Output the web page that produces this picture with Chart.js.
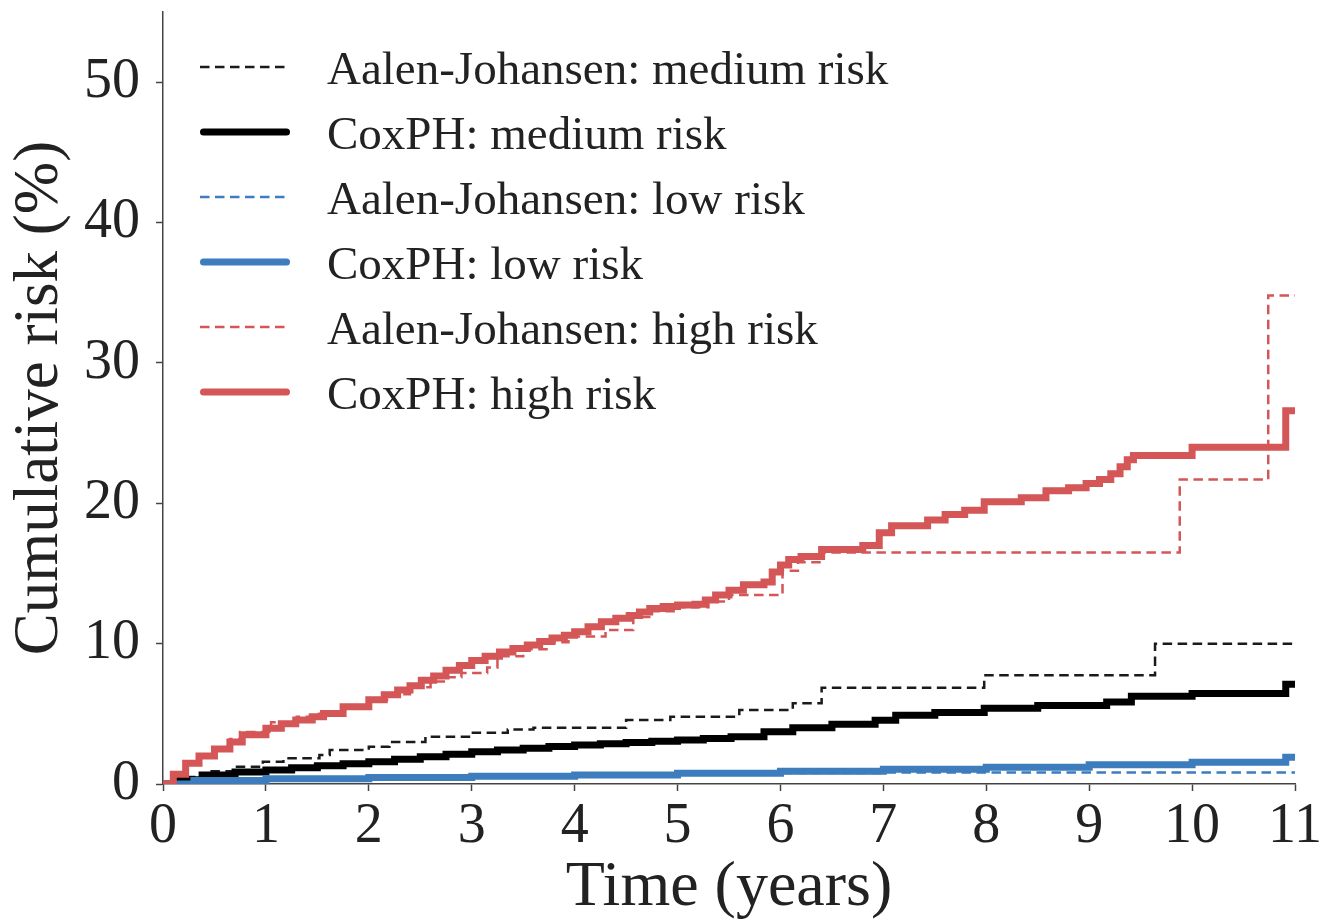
<!DOCTYPE html>
<html>
<head>
<meta charset="utf-8">
<script src="https://cdn.jsdelivr.net/npm/chart.js@4.4.1/dist/chart.umd.min.js"></script>
<style>
  html, body { margin: 0; padding: 0; background: #ffffff; }
  #wrap { width: 1338px; height: 920px; }
</style>
</head>
<body>
<div id="wrap"><canvas id="c" width="1338" height="920"></canvas></div>
<script>
// ---- data ----
const xTicks = [0, 1, 2, 3, 4, 5, 6, 7, 8, 9, 10, 11];
const yTicks = [0, 10, 20, 30, 40, 50];

const seriesLabels = [
  "Aalen-Johansen: medium risk",
  "CoxPH: medium risk",
  "Aalen-Johansen: low risk",
  "CoxPH: low risk",
  "Aalen-Johansen: high risk",
  "CoxPH: high risk"
];

const ajMediumT = [0, 0.2, 0.45, 0.69, 0.97, 1.17, 1.52, 1.62, 2.0, 2.2, 2.55, 2.99, 3.35, 3.6, 4.5, 4.93, 5.6, 6.12, 6.4, 7.98, 9.64, 11.0];
const ajMediumY = [0, 0.5, 0.9, 1.23, 1.59, 1.83, 2.07, 2.42, 2.66, 3.0, 3.37, 3.66, 3.89, 4.0, 4.56, 4.8, 5.27, 5.75, 6.85, 7.75, 10.0, 10.0];

const coxMediumT = [0, 0.15, 0.38, 0.7, 1.0, 1.25, 1.5, 1.75, 2.0, 2.25, 2.5, 2.75, 3.0, 3.25, 3.5, 3.75, 4.0, 4.25, 4.5, 4.75, 5.0, 5.25, 5.52, 5.84, 6.12, 6.5, 6.92, 7.12, 7.5, 7.98, 8.5, 9.17, 9.41, 10.0, 10.91, 11.0];
const coxMediumY = [0, 0.3, 0.64, 0.85, 1.0, 1.15, 1.3, 1.45, 1.59, 1.77, 1.95, 2.12, 2.3, 2.43, 2.55, 2.67, 2.78, 2.87, 2.95, 3.04, 3.13, 3.25, 3.37, 3.73, 4.0, 4.25, 4.55, 4.9, 5.1, 5.4, 5.6, 5.85, 6.25, 6.45, 7.1, 7.1];

const ajLowT = [0, 0.3, 1, 2, 3, 4, 5, 6, 7.0, 11.0];
const ajLowY = [0, 0.22, 0.33, 0.42, 0.5, 0.6, 0.7, 0.78, 0.82, 0.82];

const coxLowT = [0, 0.3, 1, 2, 3, 4, 5, 6, 7, 8, 9, 10, 10.91, 11.0];
const coxLowY = [0, 0.25, 0.38, 0.47, 0.55, 0.64, 0.76, 0.9, 1.05, 1.2, 1.38, 1.55, 1.9, 1.9];

const ajHighT = [0, 0.1, 0.22, 0.35, 0.5, 0.65, 0.75, 1.05, 1.3, 1.5, 1.75, 2.0, 2.2, 2.4, 2.6, 2.75, 2.9, 3.15, 3.25, 3.5, 3.75, 3.94, 4.3, 4.57, 4.75, 5.0, 5.3, 5.5, 6.02, 6.17, 6.4, 9.88, 10.74, 11.0];
const ajHighY = [0, 0.6, 1.4, 2.0, 2.6, 3.2, 3.7, 4.4, 4.8, 5.0, 5.5, 6.0, 6.4, 6.9, 7.3, 7.6, 7.9, 8.3, 9.1, 9.6, 10.1, 10.5, 10.97, 11.9, 12.3, 12.6, 13.0, 13.46, 15.2, 15.8, 16.5, 21.7, 34.8, 34.8];

const coxHighT = [0, 0.1, 0.22, 0.35, 0.5, 0.65, 0.77, 1.0, 1.15, 1.29, 1.45, 1.56, 1.75, 2.0, 2.15, 2.28, 2.4, 2.51, 2.63, 2.75, 2.88, 3.0, 3.13, 3.27, 3.4, 3.54, 3.66, 3.78, 3.9, 4.0, 4.13, 4.26, 4.4, 4.53, 4.63, 4.73, 4.86, 5.0, 5.17, 5.27, 5.37, 5.5, 5.64, 5.84, 5.92, 6.0, 6.08, 6.2, 6.4, 6.8, 6.96, 7.08, 7.43, 7.6, 7.79, 7.98, 8.34, 8.58, 8.8, 8.97, 9.1, 9.21, 9.3, 9.37, 9.43, 10.0, 10.91, 11.0];
const coxHighY = [0, 0.7, 1.47, 2.0, 2.5, 3.0, 3.5, 3.97, 4.3, 4.56, 4.8, 5.03, 5.5, 6.0, 6.35, 6.7, 7.0, 7.4, 7.7, 8.1, 8.45, 8.8, 9.1, 9.4, 9.65, 9.9, 10.15, 10.4, 10.6, 10.85, 11.2, 11.56, 11.8, 12.0, 12.25, 12.5, 12.65, 12.75, 12.8, 13.1, 13.46, 13.8, 14.2, 14.4, 15.1, 15.6, 16.0, 16.2, 16.7, 17.0, 17.9, 18.4, 18.8, 19.2, 19.5, 20.1, 20.4, 20.9, 21.1, 21.4, 21.7, 22.1, 22.6, 23.1, 23.4, 24.0, 26.6, 26.6];

// ---- styling ----
const FONT = "'Liberation Serif', 'Times New Roman', serif";
const TEXT = '#222222';
const AXIS = '#444444';
const BLACK = '#000000';
const BLUE = '#3d7cbd';
const RED = '#d45656';

function pts(T, Y) { return T.map((t, i) => ({ x: t, y: Y[i] })); }

const dashedStyle = { borderWidth: 2.5, borderDash: [9.5, 5.5], borderCapStyle: 'butt' };
const solidStyle = { borderWidth: 7, borderDash: [], borderCapStyle: 'butt' };

const seriesData = [
  pts(ajMediumT, ajMediumY),
  pts(coxMediumT, coxMediumY),
  pts(ajLowT, ajLowY),
  pts(coxLowT, coxLowY),
  pts(ajHighT, ajHighY),
  pts(coxHighT, coxHighY)
];
const seriesColors = [BLACK, BLACK, BLUE, BLUE, RED, RED];
const seriesDashed = [true, false, true, false, true, false];

const datasets = seriesData.map((d, i) => Object.assign({
  label: seriesLabels[i],
  data: d,
  borderColor: (seriesDashed[i] && i === 0) ? '#1a1a1a' : seriesColors[i],
  backgroundColor: seriesColors[i],
  stepped: 'before',
  pointRadius: 0,
  fill: false,
  borderJoinStyle: 'miter',
  clip: 0,
  order: seriesData.length - i
}, seriesDashed[i] ? dashedStyle : solidStyle));

// legend drawn inside the plot area (matplotlib style)
const insideLegend = {
  id: 'insideLegend',
  afterDraw(chart) {
    const ctx = chart.ctx;
    const x0 = 200, x1 = 290, tx = 327, y0 = 67, dy = 65;
    ctx.save();
    chart.data.datasets.forEach((ds, i) => {
      const y = y0 + i * dy;
      const dashed = ds.borderDash && ds.borderDash.length;
      ctx.beginPath();
      ctx.strokeStyle = ds.borderColor;
      ctx.lineWidth = ds.borderWidth;
      ctx.setLineDash(dashed ? ds.borderDash : []);
      ctx.lineCap = dashed ? 'butt' : 'round';
      ctx.moveTo(x0 + (dashed ? 0 : 3.5), y);
      ctx.lineTo(x1 - (dashed ? 0 : 3.5), y);
      ctx.stroke();
      ctx.setLineDash([]);
      ctx.fillStyle = TEXT;
      ctx.font = "47px " + FONT;
      ctx.textBaseline = 'middle';
      ctx.textAlign = 'left';
      ctx.fillText(ds.label, tx, y + 5);
    });
    ctx.restore();
  }
};

new Chart(document.getElementById('c'), {
  type: 'line',
  data: { datasets },
  plugins: [insideLegend],
  options: {
    responsive: false,
    devicePixelRatio: 1,
    animation: false,
    layout: { padding: { top: 12, right: 43, left: 0, bottom: 0 } },
    plugins: { legend: { display: false }, tooltip: { enabled: false } },
    elements: { point: { radius: 0 } },
    scales: {
      x: {
        type: 'linear',
        min: 0, max: 11,
        afterBuildTicks: s => { s.ticks = xTicks.map(v => ({ value: v })); },
        afterFit: s => { s.height = 136; s.paddingLeft = 0; s.paddingRight = 0; },
        ticks: { font: { family: FONT, size: 56, lineHeight: 1.15 }, color: TEXT, padding: 4, maxRotation: 0, autoSkip: false },
        grid: { drawOnChartArea: false, drawTicks: true, tickLength: 7, tickWidth: 1.5, color: AXIS },
        border: { display: true, color: AXIS, width: 1.5 },
        title: { display: true, text: 'Time (years)', color: TEXT, font: { family: FONT, size: 64, lineHeight: 1.0 }, padding: { top: 0, bottom: 0 } }
      },
      y: {
        type: 'linear',
        min: 0, max: 55,
        afterBuildTicks: s => { s.ticks = yTicks.map(v => ({ value: v })); },
        afterFit: s => { s.width = 163; s.paddingTop = 0; s.paddingBottom = 0; },
        ticks: { font: { family: FONT, size: 56, lineHeight: 1.15 }, color: TEXT, padding: 16, autoSkip: false },
        grid: { drawOnChartArea: false, drawTicks: true, tickLength: 7, tickWidth: 1.5, color: AXIS },
        border: { display: true, color: AXIS, width: 1.5 },
        title: { display: true, text: 'Cumulative risk (%)', color: TEXT, font: { family: FONT, size: 63, lineHeight: 1.2 }, padding: { top: 3, bottom: 0 } }
      }
    }
  }
});
</script>
</body>
</html>
